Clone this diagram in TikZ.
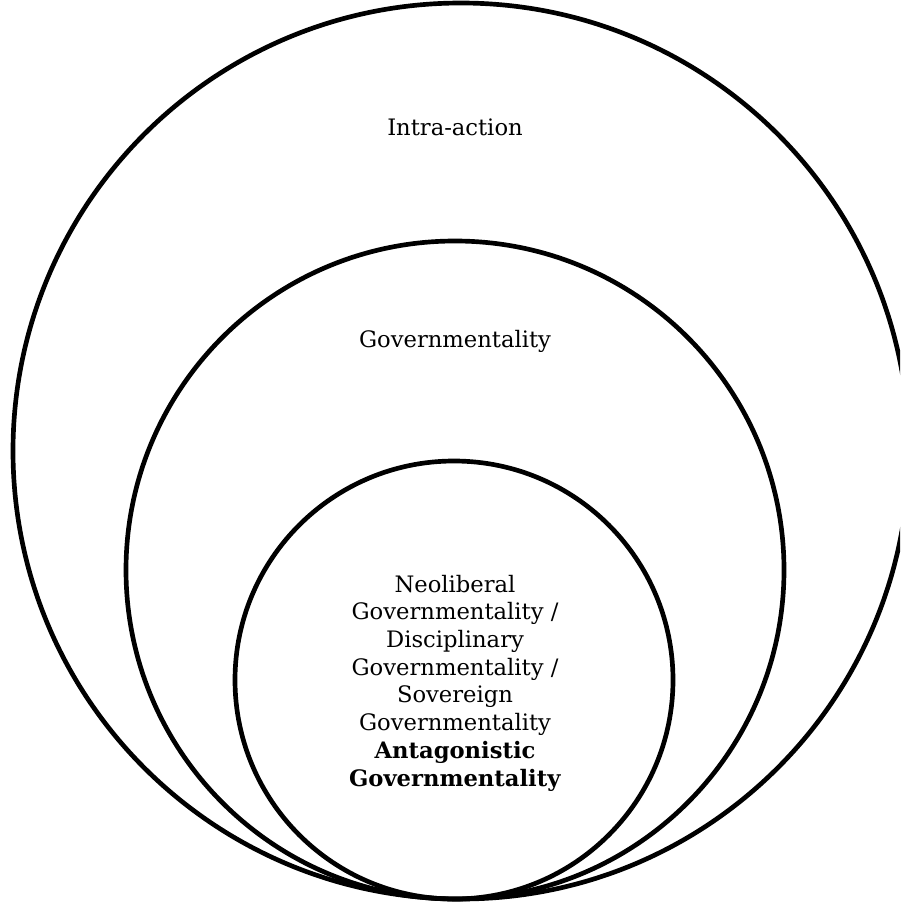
\documentclass[tikz,border=0pt]{standalone}
\usepackage{fontspec}
\setmainfont{DejaVu Serif}
\begin{document}
\begin{tikzpicture}[x=0.75pt,y=-0.75pt,
  ring/.style={draw=black,line width=3.5pt},
  lbl/.style={font=\fontsize{17}{20.8}\selectfont,align=center,inner sep=0pt}]
\useasboundingbox (0,0) rectangle (900,906);
\begin{scope}
\clip (0,0) rectangle (900,906);
\draw[ring] (461,451) circle[radius=448];
\draw[ring] (455,570) circle[radius=329];
\draw[ring] (454,680) circle[radius=219];
\end{scope}
\node[lbl] (outer) at (455,127) {Intra-action};
\node[lbl] (middle) at (455,341) {Governmentality};
\node[lbl] (inner) at (455,683) {Neoliberal\\Governmentality /\\Disciplinary\\Governmentality /\\Sovereign\\Governmentality\\\textbf{Antagonistic}\\\textbf{Governmentality}};
\end{tikzpicture}
\end{document}
